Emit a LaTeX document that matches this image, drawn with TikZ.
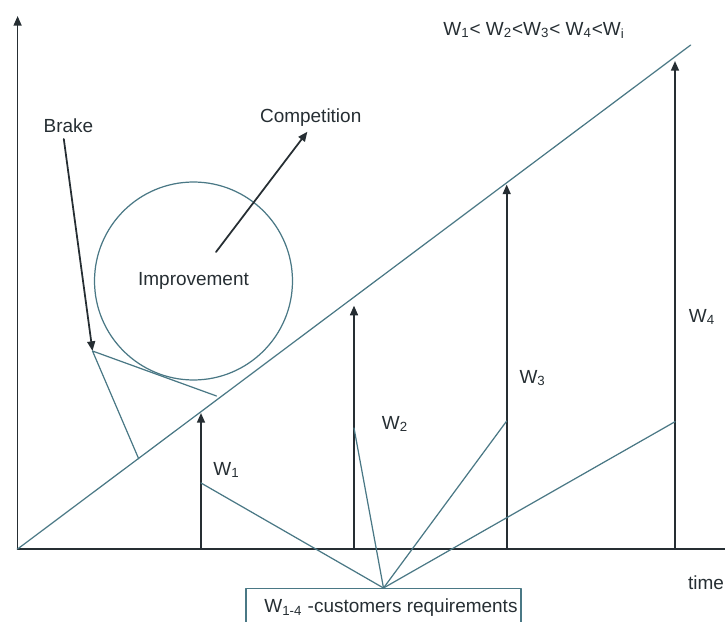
\documentclass[tikz,border=0pt]{standalone}
\usepackage{fontspec}
\setmainfont{Liberation Sans}
\usepackage{tikz}
\usetikzlibrary{arrows.meta}
\definecolor{linegray}{HTML}{4A7885}
\definecolor{ink}{HTML}{262E33}
\tikzset{
  every picture/.style={line join=round, line cap=round, >={Triangle[length=5.5pt,width=4.5pt]}},
  thinline/.style={line width=0.7pt, draw=linegray},
  arrowline/.style={line width=1pt, draw=ink, ->},
  lbl/.style={text=ink, font=\fontsize{10.8}{13}\selectfont, inner sep=0pt},
}

\begin{document}
\begin{tikzpicture}[x=0.02cm,y=-0.02cm]
\clip (0,0) rectangle (725,622);
\coordinate (O) at (17.6,549);
\coordinate (ytop) at (17.6,16);
\coordinate (xend) at (745,549);
\coordinate (dtop) at (690.7,45);
\draw[arrowline] (O)--(ytop);
\draw[arrowline] (O)--(xend);
\draw[thinline] (O)--(dtop);
\foreach \n/\x/\top/\foot in {1/201/413/483,2/354/305.6/428,3/506.7/184.5/421,4/675/61/421.7}{
  \coordinate (b\n) at (\x,549);
  \coordinate (t\n) at (\x,\top);
  \coordinate (f\n) at (\x,\foot);
  \draw[arrowline] (b\n)--(t\n);
}
\node[lbl] (w1) at (226.5,470) {W\textsubscript{1}};
\node[lbl] (w2) at (395,424) {W\textsubscript{2}};
\node[lbl] (w3) at (532.6,378) {W\textsubscript{3}};
\node[lbl] (w4) at (702,317) {W\textsubscript{4}};
\node[lbl] (order) at (534,30) {W\textsubscript{1}< W\textsubscript{2}<W\textsubscript{3}< W\textsubscript{4}<W\textsubscript{i}};
\node[lbl] (tm) at (706,583) {time};
\node[lbl, circle, thinline, minimum size=3.96cm] (impr) at (193.5,281) {Improvement};
\node[lbl] (comp) at (310.7,118) {Competition};
\node[lbl] (brake) at (68.4,126) {Brake};
\coordinate (cs) at (216,252);
\coordinate (ce) at (307.4,131.7);
\coordinate (bs) at (63.8,139);
\coordinate (bk) at (92.5,351);
\coordinate (tg) at (216.5,396);
\coordinate (dg) at (138.7,458.8);
\draw[arrowline] (cs)--(ce);
\draw[arrowline] (bs)--(bk);
\draw[thinline] (tg)--(bk)--(dg);
\node[lbl, thinline, draw, anchor=north, minimum width=5.5cm, minimum height=0.76cm] (req) at (383.5,588) {\hspace*{0.3cm}W\textsubscript{1-4} -customers requirements};
\foreach \n in {1,...,4}
  \draw[thinline] (req.north)--(f\n);
\end{tikzpicture}
\end{document}
